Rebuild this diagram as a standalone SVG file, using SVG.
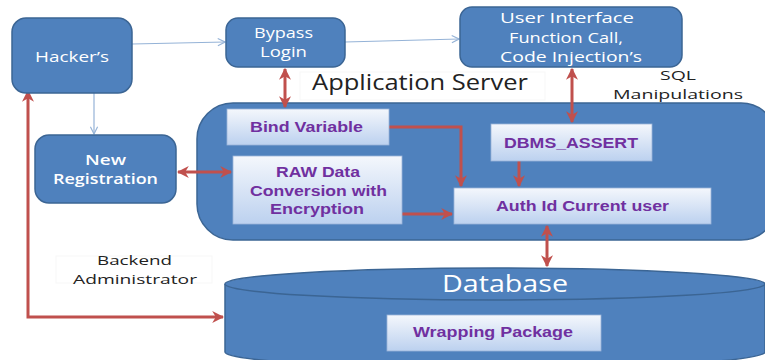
<svg xmlns="http://www.w3.org/2000/svg" width="765" height="360" viewBox="0 0 765 360">
<style>
.blue{fill:#4f81bd;stroke:#3b6594;stroke-width:1.5}
.light{fill:url(#lg);stroke:#9bb5d9;stroke-width:0.8}
.wt{font-family:"Open Sans","Liberation Sans",sans-serif;fill:#fff;font-size:15px}
.pt{font-family:"Liberation Sans",Arial,sans-serif;font-weight:bold;fill:#7030a0;font-size:14.5px}
.bt{font-family:"Open Sans","Liberation Sans",sans-serif;fill:#222}
.red{stroke:#c0504d;stroke-width:3;fill:none}
.thin{stroke:#95b3d7;stroke-width:1.2;fill:none}
text{text-anchor:start}
</style>
<defs>
<linearGradient id="lg" x1="0" y1="0" x2="0" y2="1">
<stop offset="0" stop-color="#f4f7fc"/>
<stop offset="1" stop-color="#bcd1ef"/>
</linearGradient>
<marker id="ra" viewBox="0 0 10 10" refX="9" refY="5" markerWidth="4" markerHeight="4" orient="auto-start-reverse" markerUnits="strokeWidth">
<path d="M0,0 L10,5 L0,10 L3,5 Z" fill="#c0504d"/>
</marker>
<marker id="ba" viewBox="0 0 10 10" refX="9" refY="5" markerWidth="9" markerHeight="9" orient="auto" markerUnits="userSpaceOnUse">
<path d="M1,1 L9,5 L1,9" fill="none" stroke="#95b3d7" stroke-width="1.3"/>
</marker>
</defs>

<g id="app-server">
<rect class="blue" x="197" y="103" width="580" height="137" rx="36"/>
</g>

<g id="database">
<path class="blue" d="M225,284 L225,352 A270,16 0 0 0 765,352 L765,284"/>
<ellipse class="blue" cx="495" cy="284" rx="270" ry="16"/>
<text class="wt" x="442" y="292" style="font-size:23px" textLength="126" lengthAdjust="spacingAndGlyphs">Database</text>
</g>

<g id="labels">
<rect x="300" y="72" width="245" height="28" fill="#fff" stroke="#f7f7f7"/>
<text class="bt" x="312" y="90" style="font-size:22px" textLength="216" lengthAdjust="spacingAndGlyphs">Application Server</text>
<text class="bt" x="660" y="80" style="font-size:13.5px" textLength="36" lengthAdjust="spacingAndGlyphs">SQL</text>
<text class="bt" x="613" y="99" style="font-size:13.5px" textLength="130" lengthAdjust="spacingAndGlyphs">Manipulations</text>
<rect x="56" y="256" width="156" height="27" fill="#fff" stroke="#f7f7f7"/>
<text class="bt" x="97" y="265" style="font-size:13.5px" textLength="75" lengthAdjust="spacingAndGlyphs">Backend</text>
<text class="bt" x="73" y="284" style="font-size:13.5px" textLength="124" lengthAdjust="spacingAndGlyphs">Administrator</text>
</g>

<g id="connectors">
<line class="thin" x1="132" y1="44" x2="225" y2="42" marker-end="url(#ba)"/>
<line class="thin" x1="345" y1="42" x2="459" y2="39" marker-end="url(#ba)"/>
<line class="thin" x1="94" y1="93" x2="94" y2="134" marker-end="url(#ba)"/>
<line class="red" x1="285" y1="69" x2="285" y2="107" marker-start="url(#ra)" marker-end="url(#ra)"/>
<line class="red" x1="572" y1="69" x2="572" y2="122" marker-start="url(#ra)" marker-end="url(#ra)"/>
<line class="red" x1="178" y1="172" x2="231" y2="172" marker-start="url(#ra)" marker-end="url(#ra)"/>
<polyline class="red" points="389,127 461,127 461,186" marker-end="url(#ra)"/>
<line class="red" x1="402" y1="214" x2="452" y2="214" marker-end="url(#ra)"/>
<line class="red" x1="519" y1="161" x2="519" y2="186" marker-end="url(#ra)"/>
<line class="red" x1="547" y1="226" x2="547" y2="266" marker-start="url(#ra)" marker-end="url(#ra)"/>
<polyline class="red" points="28,91 28,317 223,317" marker-start="url(#ra)" marker-end="url(#ra)"/>
</g>

<g id="hackers">
<rect class="blue" x="12" y="18" width="120" height="75" rx="14"/>
<text class="wt" x="35" y="62" textLength="74" lengthAdjust="spacingAndGlyphs">Hacker’s</text>
</g>

<g id="bypass-login">
<rect class="blue" x="226" y="18" width="119" height="49" rx="12"/>
<text class="wt" x="254" y="38" textLength="59" lengthAdjust="spacingAndGlyphs">Bypass</text>
<text class="wt" x="260" y="57" textLength="47" lengthAdjust="spacingAndGlyphs">Login</text>
</g>

<g id="user-interface">
<rect class="blue" x="460" y="7" width="222" height="60" rx="12"/>
<text class="wt" x="500" y="23" textLength="134" lengthAdjust="spacingAndGlyphs">User Interface</text>
<text class="wt" x="509" y="43" textLength="114" lengthAdjust="spacingAndGlyphs">Function Call,</text>
<text class="wt" x="500" y="62" textLength="142" lengthAdjust="spacingAndGlyphs">Code Injection’s</text>
</g>

<g id="new-registration">
<rect class="blue" x="35" y="135" width="141" height="68" rx="14"/>
<text class="wt" x="85" y="165" style="font-weight:600" textLength="41" lengthAdjust="spacingAndGlyphs">New</text>
<text class="wt" x="53" y="184" style="font-weight:600" textLength="105" lengthAdjust="spacingAndGlyphs">Registration</text>
</g>

<g id="bind-variable">
<rect class="light" x="227" y="109" width="162" height="36"/>
<text class="pt" x="250" y="132" textLength="113" lengthAdjust="spacingAndGlyphs">Bind Variable</text>
</g>

<g id="raw-data">
<rect class="light" x="233" y="156" width="169" height="68"/>
<text class="pt" x="276" y="177" textLength="84" lengthAdjust="spacingAndGlyphs">RAW Data</text>
<text class="pt" x="250" y="196" textLength="137" lengthAdjust="spacingAndGlyphs">Conversion with</text>
<text class="pt" x="270" y="214" textLength="94" lengthAdjust="spacingAndGlyphs">Encryption</text>
</g>

<g id="dbms-assert">
<rect class="light" x="491" y="124" width="161" height="37"/>
<text class="pt" x="504" y="148" textLength="134" lengthAdjust="spacingAndGlyphs">DBMS_ASSERT</text>
</g>

<g id="auth-id">
<rect class="light" x="454" y="188" width="257" height="36"/>
<text class="pt" x="496" y="211" textLength="173" lengthAdjust="spacingAndGlyphs">Auth Id Current user</text>
</g>

<g id="wrapping-package">
<rect class="light" x="387" y="315" width="214" height="36"/>
<text class="pt" x="413" y="337" textLength="160" lengthAdjust="spacingAndGlyphs">Wrapping Package</text>
</g>
</svg>
